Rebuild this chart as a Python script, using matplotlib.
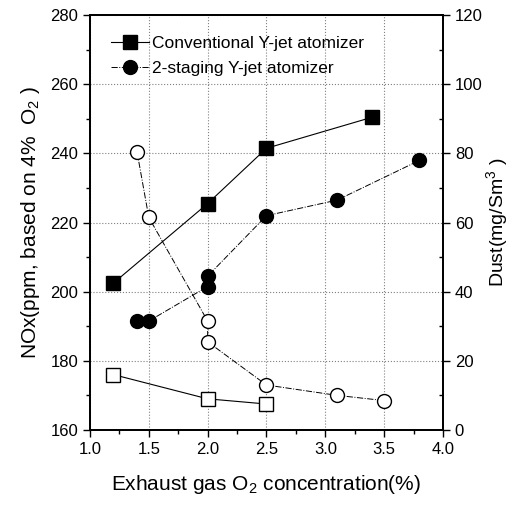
import matplotlib
matplotlib.use("Agg")
import matplotlib.pyplot as plt
from matplotlib.ticker import MultipleLocator

plt.rcParams['font.family'] = ['Liberation Sans', 'DejaVu Sans']
plt.rcParams['mathtext.fontset'] = 'custom'
plt.rcParams['mathtext.rm'] = 'Liberation Sans'

# NOx (left axis), filled markers
conv_x = [1.2, 2.0, 2.5, 3.4]
conv_nox = [202.5, 225.5, 241.5, 250.5]
stag_x = [1.4, 1.5, 2.0, 2.0, 2.5, 3.1, 3.8]
stag_nox = [191.5, 191.5, 201.5, 204.5, 222.0, 226.5, 238.0]

# Dust (right axis), open markers
conv_dust_x = [1.2, 2.0, 2.5]
conv_dust = [16.0, 9.0, 7.5]
stag_dust_x = [1.4, 1.5, 2.0, 2.0, 2.5, 3.1, 3.5]
stag_dust = [80.5, 61.5, 31.5, 25.5, 13.0, 10.0, 8.5]

fig = plt.figure(figsize=(5.11, 5.07), dpi=100)
ax = fig.add_axes([0.176, 0.152, 0.691, 0.818])
ax2 = ax.twinx()

ax.plot(conv_x, conv_nox, '-', color='black', lw=0.8, marker='s', ms=10.5,
        mfc='black', mec='black', label='Conventional Y-jet atomizer', zorder=3)
ax.plot(stag_x, stag_nox, '-.', color='black', lw=0.7, marker='o', ms=10,
        mfc='black', mec='black', label='2-staging Y-jet atomizer', zorder=3)

ax2.plot(conv_dust_x, conv_dust, '-', color='black', lw=0.8, marker='s', ms=10,
         mfc='white', mec='black', mew=1.0)
ax2.plot(stag_dust_x, stag_dust, '-.', color='black', lw=0.7, marker='o', ms=10,
         mfc='white', mec='black', mew=1.0)

ax.set_xlim(1.0, 4.0)
ax.set_ylim(160, 280)
ax2.set_ylim(0, 120)

ax.xaxis.set_major_locator(MultipleLocator(0.5))
ax.xaxis.set_minor_locator(MultipleLocator(0.25))
ax.yaxis.set_major_locator(MultipleLocator(20))
ax.yaxis.set_minor_locator(MultipleLocator(10))
ax2.yaxis.set_major_locator(MultipleLocator(20))
ax2.yaxis.set_minor_locator(MultipleLocator(10))
ax.xaxis.set_major_formatter(matplotlib.ticker.FormatStrFormatter('%.1f'))

ax.grid(True, which='major', linestyle=':', color='gray', lw=0.8)

ax.tick_params(axis='both', which='major', direction='out', length=5, width=1, labelsize=12)
ax.tick_params(axis='both', which='minor', direction='out', length=3, width=1)
ax2.tick_params(axis='y', which='major', direction='out', length=5, width=1, labelsize=12)
ax2.tick_params(axis='y', which='minor', direction='in', length=3, width=1)
ax.tick_params(top=False, which='both')

for s in ax.spines.values():
    s.set_linewidth(1.3)
for s in ax2.spines.values():
    s.set_linewidth(1.3)

ax.set_xlabel('Exhaust gas O$_2$ concentration(%)', fontsize=15, labelpad=12)
ax.set_ylabel('NOx(ppm, based on 4%  O$_2$ )', fontsize=15, labelpad=6)
ax2.set_ylabel('Dust(mg/Sm$^{3}$ )', fontsize=14, labelpad=1)

ax.legend(loc='upper left', frameon=False, fontsize=12.5, handlelength=2.2,
          handletextpad=0.2, borderaxespad=0.8, labelspacing=0.55)

fig.savefig('out.png', dpi=100)
